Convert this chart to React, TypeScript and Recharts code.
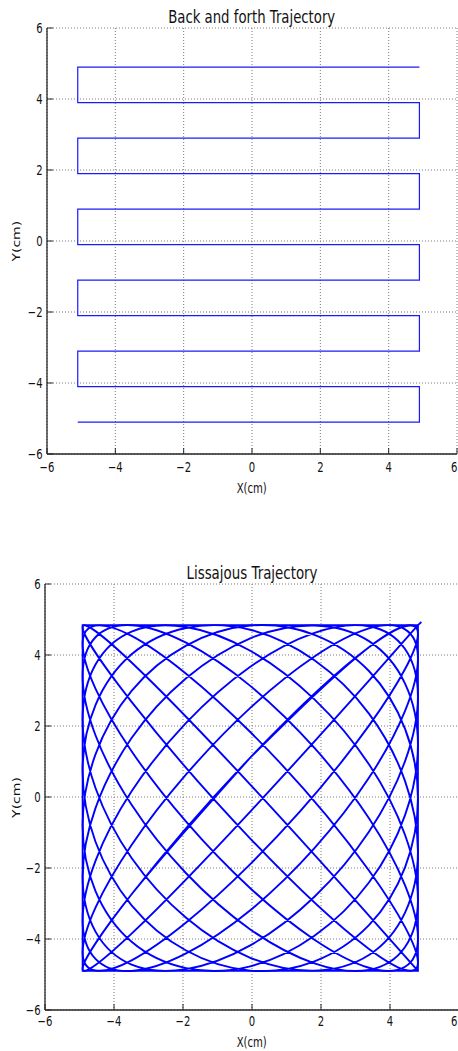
import React from "react";
import { LineChart, Line, XAxis, YAxis, CartesianGrid } from "recharts";

// ---------- data ----------
const axisTicks = [-6, -4, -2, 0, 2, 4, 6];
const axisTickLabels = ["\u22126", "\u22124", "\u22122", "0", "2", "4", "6"];

const backForthX = [4.9, -5.1, -5.1, 4.9, 4.9, -5.1, -5.1, 4.9, 4.9, -5.1, -5.1, 4.9, 4.9, -5.1, -5.1, 4.9, 4.9, -5.1, -5.1, 4.9, 4.9, -5.1];
const backForthY = [4.9, 4.9, 3.9, 3.9, 2.9, 2.9, 1.9, 1.9, 0.9, 0.9, -0.1, -0.1, -1.1, -1.1, -2.1, -2.1, -3.1, -3.1, -4.1, -4.1, -5.1, -5.1];

const lissajousX = [
  -0.05, 3.39, 4.81, 3.39, -0.05, -3.49, -4.91, -3.49,
  -0.05, 3.39, 4.81, 3.39, -0.05, -3.49, -4.91, -3.49,
  -0.05, 3.39, 4.81, 3.39, -0.05, -3.49, -4.91, -3.49,
  -0.05, 3.39, 4.81, 3.39, -0.05, -3.49, -4.91, -3.49,
  -0.05, 3.39, 4.81, 3.39, -0.05, -3.49, -4.91, -3.49,
  -0.05, 3.39, 4.81, 3.39, -0.05, -3.49, -4.91, -3.49,
  -0.05, 3.39, 4.81, 3.39, -0.05, -3.49, -4.91, -3.49,
  -0.05, 3.39, 4.81, 3.39, -0.05, -3.49, -4.91, -3.49,
  -0.05, 3.39, 4.81, 3.39, -0.05, -3.49, -4.91, -3.49,
  -0.05, 3.39, 4.81, 3.39, -0.05, -3.49, -4.91, -3.49,
  -0.05, 3.39, 4.81, 3.39, -0.05, -3.49, -4.91, -3.49,
  -0.05, 3.39, 4.81, 3.39, -0.05, -3.49, -4.91, -3.49,
  -0.05, 3.39, 4.81, 3.39, -0.05, -3.49, -4.91, -3.49,
  -0.05, 3.39, 4.81, 3.39, -0.05, -3.49, -4.91, -3.49,
  -0.05, 3.39, 4.81, 3.39, -0.05, -3.49, -4.91, -3.49,
  -0.05, 3.39, 4.81, 3.39, -0.05, -3.49, -4.91, -3.49,
  -0.05, 3.39, 4.81, 3.39, -0.05, -3.49, -4.91, -3.49,
  -0.05, 3.39, 4.81, 3.39, -0.05, -3.49, -4.91, -3.49,
  -0.05, 3.39, 4.81, 3.39, -0.05, -3.49, -4.91, -3.49,
  -0.05, 3.39, 4.81, 3.39, -0.05, -3.49, -4.91, -3.49,
  -0.05,
];
const lissajousY = [
  1.11, 4.22, 4.6, 2.01, -1.89, -4.6, -4.37, -1.35,
  2.51, 4.75, 3.91, 0.54, -3.19, -4.9, -3.47, 0.16,
  3.67, 4.81, 2.83, -0.98, -4.18, -4.72, -2.24, 1.66,
  4.47, 4.39, 1.47, -2.41, -4.77, -4.08, -0.79, 2.99,
  4.83, 3.55, -0.03, -3.61, -4.89, -3.05, 0.73, 4.02,
  4.71, 2.35, -1.53, -4.45, -4.53, -1.72, 2.18, 4.66,
  4.12, 0.92, -2.89, -4.87, -3.73, -0.22, 3.41, 4.84,
  3.13, -0.6, -3.97, -4.81, -2.57, 1.29, 4.31, 4.54,
  1.83, -2.07, -4.66, -4.28, -1.17, 2.68, 4.78, 3.79,
  0.35, -3.34, -4.9, -3.34, 0.35, 3.79, 4.78, 2.68,
  -1.17, -4.28, -4.66, -2.07, 1.83, 4.54, 4.31, 1.29,
  -2.57, -4.81, -3.97, -0.6, 3.13, 4.84, 3.41, -0.22,
  -3.73, -4.87, -2.89, 0.92, 4.12, 4.66, 2.18, -1.72,
  -4.53, -4.45, -1.53, 2.35, 4.71, 4.02, 0.73, -3.05,
  -4.89, -3.61, -0.03, 3.55, 4.83, 2.99, -0.79, -4.08,
  -4.77, -2.41, 1.47, 4.39, 4.47, 1.66, -2.24, -4.72,
  -4.18, -0.98, 2.83, 4.81, 3.67, 0.16, -3.47, -4.9,
  -3.19, 0.54, 3.91, 4.75, 2.51, -1.35, -4.37, -4.6,
  -1.89, 2.01, 4.6, 4.22, 1.11, -2.74, -4.84, -3.85,
  -0.41, 3.28, 4.84, 3.28, -0.41, -3.85, -4.84, -2.74,
  1.11,
];

// start stroke and boundary square of the Lissajous run
const boundaryX = [4.91, 4.81, -4.91, -4.91, 4.81, 4.81];
const boundaryY = [4.93, 4.84, 4.84, -4.9, -4.9, 4.84];

const titles = ["Back and forth Trajectory", "Lissajous Trajectory"];
const xLabel = "X(cm)";
const yLabel = "Y(cm)";

// ---------- helpers ----------
const zip = (xs: number[], ys: number[]) => xs.map((x, i) => ({ x, y: ys[i] }));
const backForthData = zip(backForthX, backForthY);
const lissajousData = zip(lissajousX, lissajousY);
const boundaryData = zip(boundaryX, boundaryY);

const FONT = "'DejaVu Sans', Verdana, sans-serif";
const SQ = 0.72;
const INK = "#111";
const FRAME = "#262626";
const PAGE_W = 458;

const labelFor = (v: number) => {
  const i = axisTicks.indexOf(v);
  return i >= 0 ? axisTickLabels[i] : String(v);
};

const XTick = (props: any) => {
  const { x, y, payload } = props;
  // keep the last label inside the page (it sits on the page's right edge)
  const nearEdge = x + 4 > PAGE_W;
  const tx = nearEdge ? PAGE_W - 0.5 : x;
  return (
    <text
      transform={`translate(${tx},${y}) scale(${SQ},1)`}
      textAnchor={nearEdge ? "end" : "middle"}
      fontFamily={FONT}
      fontSize={14}
      fill={INK}
    >
      {labelFor(payload.value)}
    </text>
  );
};

const YTick = (props: any) => {
  const { x, y, payload } = props;
  return (
    <text
      transform={`translate(${x},${y}) scale(${SQ},1)`}
      textAnchor="end"
      dy="0.36em"
      fontFamily={FONT}
      fontSize={14}
      fill={INK}
    >
      {labelFor(payload.value)}
    </text>
  );
};

type PanelProps = {
  top: number;
  height: number;
  marginTop: number;
  marginRight: number;
  yAxisWidth: number;
  xAxisHeight: number;
  xTickMargin: number;
  yTickMargin: number;
  children: React.ReactNode;
};

const Panel = ({ top, height, marginTop, marginRight, yAxisWidth, xAxisHeight, xTickMargin, yTickMargin, children }: PanelProps) => (
  <div style={{ position: "absolute", left: 0, top, width: 480, height }}>
    <LineChart
      width={480}
      height={height}
      margin={{ top: marginTop, right: marginRight, left: 0, bottom: 0 }}
    >
      <CartesianGrid
        xAxisId="b"
        yAxisId="l"
        stroke="#7a7a7a"
        strokeWidth={1}
        strokeDasharray="1 2"
      />
      <XAxis
        xAxisId="b"
        orientation="bottom"
        type="number"
        dataKey="x"
        domain={[-6, 6]}
        ticks={axisTicks}
        allowDataOverflow
        height={xAxisHeight}
        tickSize={-6}
        tickMargin={xTickMargin}
        tick={<XTick />}
        axisLine={{ stroke: FRAME, strokeWidth: 1.3 }}
        tickLine={{ stroke: FRAME, strokeWidth: 1 }}
        interval={0}
      />
      <XAxis
        xAxisId="t"
        orientation="top"
        type="number"
        dataKey="x"
        domain={[-6, 6]}
        ticks={axisTicks}
        allowDataOverflow
        height={0}
        tickSize={-6}
        tick={false}
        axisLine={{ stroke: FRAME, strokeWidth: 1.3 }}
        tickLine={{ stroke: FRAME, strokeWidth: 1 }}
        interval={0}
      />
      <YAxis
        yAxisId="l"
        orientation="left"
        type="number"
        domain={[-6, 6]}
        ticks={axisTicks}
        allowDataOverflow
        width={yAxisWidth}
        tickSize={-6}
        tickMargin={yTickMargin}
        tick={<YTick />}
        axisLine={{ stroke: FRAME, strokeWidth: 1.3 }}
        tickLine={{ stroke: FRAME, strokeWidth: 1 }}
        interval={0}
      />
      <YAxis
        yAxisId="r"
        orientation="right"
        type="number"
        domain={[-6, 6]}
        ticks={axisTicks}
        allowDataOverflow
        width={0}
        tickSize={-6}
        tick={false}
        axisLine={{ stroke: FRAME, strokeWidth: 1.3 }}
        tickLine={{ stroke: FRAME, strokeWidth: 1 }}
        interval={0}
      />
      {children}
    </LineChart>
  </div>
);

const Overlay = () => (
  <svg
    width={458}
    height={1051}
    style={{ position: "absolute", left: 0, top: 0, pointerEvents: "none" }}
  >
    <text x={251.7} y={22.7} textAnchor="middle" fontFamily={FONT} fontSize={18} fill={INK}
      textLength={167} lengthAdjust="spacingAndGlyphs">
      {titles[0]}
    </text>
    <text x={252} y={579} textAnchor="middle" fontFamily={FONT} fontSize={18} fill={INK}
      textLength={131} lengthAdjust="spacingAndGlyphs">
      {titles[1]}
    </text>
    <text transform={`translate(251.7,493) scale(${SQ},1)`} textAnchor="middle" fontFamily={FONT} fontSize={14} fill={INK}>
      {xLabel}
    </text>
    <text transform={`translate(251.7,1047) scale(${SQ},1)`} textAnchor="middle" fontFamily={FONT} fontSize={14} fill={INK}>
      {xLabel}
    </text>
    <text transform={`translate(16.7,241.2) scale(${SQ},1) rotate(-90)`} textAnchor="middle" dy="0.36em" fontFamily={FONT} fontSize={14} fill={INK}>
      {yLabel}
    </text>
    <text transform={`translate(16.7,797.5) scale(${SQ},1) rotate(-90)`} textAnchor="middle" dy="0.36em" fontFamily={FONT} fontSize={14} fill={INK}>
      {yLabel}
    </text>
  </svg>
);

export default function App() {
  return (
    <div
      style={{
        position: "absolute",
        left: 0,
        top: 0,
        width: 458,
        height: 1051,
        overflow: "hidden",
        background: "#fff",
      }}
    >
      <Panel top={0} height={510} marginTop={28} marginRight={23} yAxisWidth={47}
        xAxisHeight={56} xTickMargin={24} yTickMargin={10.3}>
        <Line
          xAxisId="b"
          yAxisId="l"
          data={backForthData}
          dataKey="y"
          type="linear"
          stroke="#1a1aff"
          strokeWidth={1.2}
          dot={false}
          activeDot={false}
          isAnimationActive={false}
        />
      </Panel>
      <Panel top={520} height={531} marginTop={64} marginRight={21} yAxisWidth={45}
        xAxisHeight={41} xTickMargin={22} yTickMargin={10.3}>
        <Line
          xAxisId="b"
          yAxisId="l"
          data={boundaryData}
          dataKey="y"
          type="linear"
          stroke="#0000ff"
          strokeWidth={1.8}
          dot={false}
          activeDot={false}
          isAnimationActive={false}
        />
        <Line
          xAxisId="b"
          yAxisId="l"
          data={lissajousData}
          dataKey="y"
          type="natural"
          stroke="#0000ff"
          strokeWidth={1.9}
          dot={false}
          activeDot={false}
          isAnimationActive={false}
        />
      </Panel>
      <Overlay />
    </div>
  );
}
